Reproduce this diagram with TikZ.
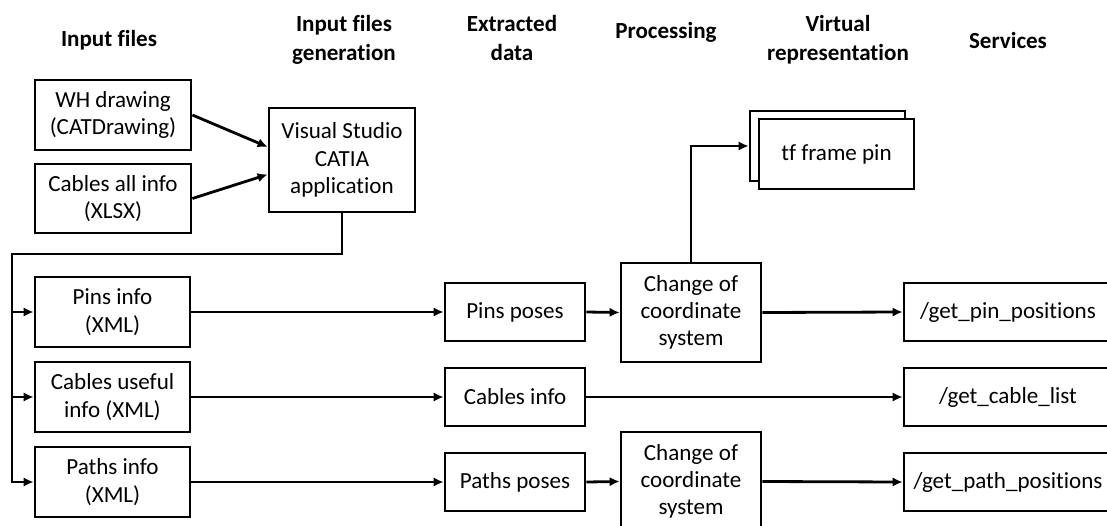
\documentclass[tikz,border=0pt]{standalone}
\usepackage{fontspec}
\setmainfont{Carlito}[RawFeature=-liga]
\usetikzlibrary{arrows.meta,calc}
\tikzset{>={Latex[length=7.5pt,width=7pt]}}
\def\pix{0.75pt}
\tikzstyle{block}=[rectangle,draw=black,fill=white,line width=2.1pt,align=center,inner sep=0pt,font=\fontsize{17.3}{20.5}\selectfont]
\tikzstyle{header}=[align=center,font=\fontsize{17.3}{21.5}\selectfont\bfseries]
\tikzstyle{link}=[->,line width=2.1pt]

\begin{document}
\begin{tikzpicture}[x=\pix,y=-\pix]
	\useasboundingbox (0,0) rectangle (1107,525);
	\def \colxml {112.5};
	\def \colext {515};
	\def \colchg {691};
	\def \colsrv {1008};

	% column headings
	\node[header] (hfiles) at (109,40) {Input files};
	\node[header] (hgen) at (344,40) {Input files\\generation};
	\node[header] (hext) at (512,38) {Extracted\\data};
	\node[header] (hproc) at (666,32) {Processing};
	\node[header] (hvirt) at (838,40) {Virtual\\representation};
	\node[header] (hserv) at (1008,40) {Services};

	% input files and generation
	\node[block, minimum width=156*\pix, minimum height=70*\pix] (wh) at (113,115) {WH drawing\\(CATDrawing)};
	\node[block, minimum width=156*\pix, minimum height=69*\pix] (xlsx) at (113,198.5) {Cables all info\\(XLSX)};
	\node[block, minimum width=146*\pix, minimum height=104*\pix] (vs) at (342,160) {Visual Studio\\CATIA\\application};
	\draw[link] (wh.east) -- (vs.170);
	\draw[link] (xlsx.east) -- (vs.191);

	\foreach \n/\y/\txt in {pinsxml/312/{Pins info\\(XML)}, cablesxml/397/{Cables useful\\info (XML)}, pathsxml/482/{Paths info\\(XML)}} {
		\node[block, minimum width=155*\pix, minimum height=70*\pix] (\n) at (\colxml,\y) {\txt};
	};

	\foreach \n/\y/\txt in {pinsposes/312/Pins poses, cablesinfo/397/Cables info, pathsposes/482/Paths poses} {
		\node[block, minimum width=140*\pix, minimum height=58*\pix] (\n) at (\colext,\y) {\txt};
	};

	\foreach \n/\y in {chgpin/312.5, chgpath/481.5} {
		\node[block, minimum width=140*\pix, minimum height=99*\pix] (\n) at (\colchg,\y) {Change of\\coordinate\\system};
	};

	\foreach \n/\y/\txt in {srvpin/312/{/get\_pin\_positions}, srvcable/397/{/get\_cable\_list}, srvpath/482/{/get\_path\_positions}} {
		\node[block, minimum width=208*\pix, minimum height=58*\pix] (\n) at (\colsrv,\y) {\txt};
	};

	% stacked tf frames
	\node[block, minimum width=155*\pix, minimum height=70*\pix] (tfback) at (827.5,146) {};
	\node[block, minimum width=155*\pix, minimum height=70*\pix] (tf) at (836.5,154) {tf frame pin};

	% distribution of the generated files
	\coordinate (bus) at (12,254);
	\draw[link] (vs.south) |- (bus) |- (pathsxml.west);
	\foreach \n in {pinsxml,cablesxml} {
		\draw[link] (bus |- \n.west) -- (\n.west);
	};

	\draw[link] (pinsxml.east) -- (pinsposes.west);
	\draw[link] (pinsposes.east) -- (chgpin.west);
	\draw[link] (chgpin.east) -- (srvpin.west);
	\draw[link] (cablesxml.east) -- (cablesinfo.west);
	\draw[link] (cablesinfo.east) -- (srvcable.west);
	\draw[link] (pathsxml.east) -- (pathsposes.west);
	\draw[link] (pathsposes.east) -- (chgpath.west);
	\draw[link] (chgpath.east) -- (srvpath.west);
	\draw[link] (chgpin.north) |- (tfback.west);
\end{tikzpicture}
\end{document}
